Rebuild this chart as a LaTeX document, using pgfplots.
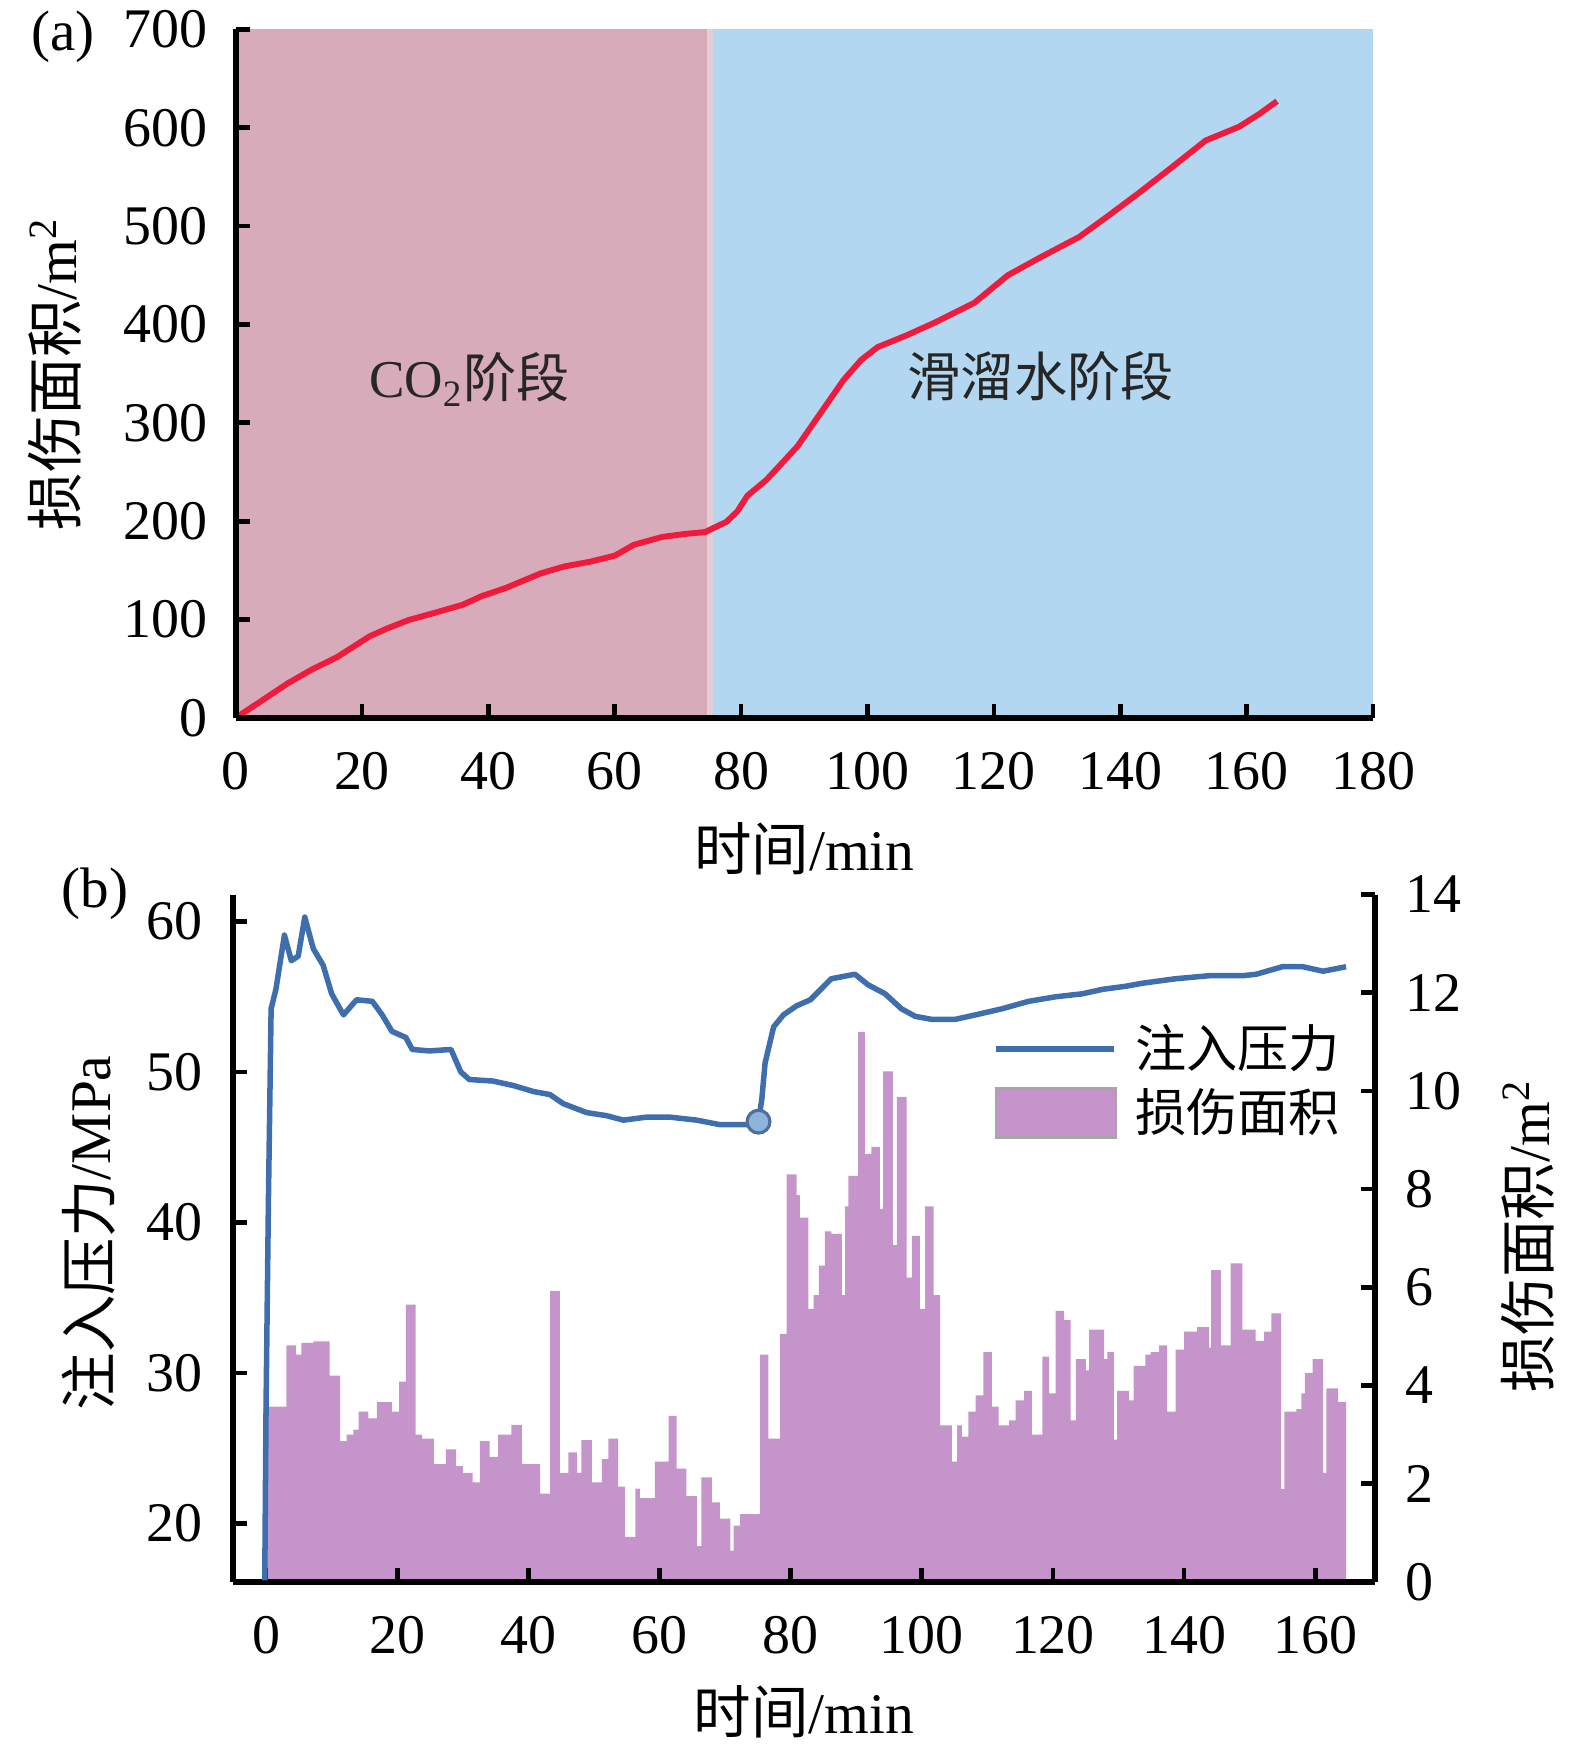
\documentclass[border=0pt]{standalone}
\usepackage{fontspec}
\setmainfont{Liberation Serif}
\newfontfamily\cjk{Noto Sans CJK SC}
\usepackage{pgfplots}
\pgfplotsset{compat=1.18}
\definecolor{pinkbg}{HTML}{D7ABB9}
\definecolor{stripbg}{HTML}{E3CDD6}
\definecolor{bluebg}{HTML}{B3D6F1}
\definecolor{redline}{HTML}{F01B3C}
\definecolor{barc}{HTML}{C594CA}
\definecolor{presc}{HTML}{3F6EAF}
\definecolor{markf}{HTML}{8FB4DC}
\definecolor{markd}{HTML}{4F6E99}
\newcommand{\lblfont}{\fontsize{14.6}{17}\selectfont}
\begin{document}
\begin{tikzpicture}
\useasboundingbox (0pt,-443.7pt) rectangle (400pt,0pt);
\pgfplotsset{
  every axis/.append style={
    scale only axis, axis on top, tick align=inside,
    major tick length=3.6pt,
    tick style={black, line width=1.2pt},
    axis line style={black, line width=1.5pt},
    tick label style={font=\fontsize{14.2}{16}\selectfont},
    /pgf/number format/assume math mode=true,
    minor tick num=0,
  }
}
% ---------------- panel (a) ----------------
\begin{axis}[at={(59.83pt,-182.35pt)}, anchor=south west,
  width=288.9pt, height=174.9pt,
  xmin=0, xmax=180, ymin=0, ymax=700,
  axis x line*=bottom, axis y line*=left,
  xtick={0,20,...,180}, ytick={0,100,...,700},
  xticklabel style={yshift=-5.2pt}, yticklabel style={xshift=-3.6pt},
  xlabel={{\cjk 时间}/min},
  ylabel={{\cjk 损伤面积}/m\textsuperscript{2}},
  every axis x label/.style={at={(axis description cs:0.5,-0.190)}, anchor=center, font=\lblfont},
  every axis y label/.style={at={(axis description cs:-0.1587,0.50)}, rotate=90, anchor=center, font=\lblfont},
]
\addplot[fill=pinkbg, draw=none] coordinates {(0,700) (74.6,700)} \closedcycle;
\addplot[fill=stripbg, draw=none] coordinates {(74.6,700) (75.6,700)} \closedcycle;
\addplot[fill=bluebg, draw=none] coordinates {(75.6,700) (180,700)} \closedcycle;
\addplot[redline, line width=1.5pt, line join=round] coordinates {
(0,0) (4,17) (8.2,35) (12,49) (16.1,62) (21.2,83) (24,91) (27.4,99.6) (31,106)
(35.9,115) (39,124) (42.7,132) (48.3,147) (52,154) (56.2,159) (60,165) (63,176)
(67.5,184) (71,187) (74.3,189) (77.7,199.5) (79.4,210) (81,226) (84,242)
(88.9,276) (92.9,313) (96.2,343.5) (99,364) (101.6,377) (106.2,389) (111,403)
(116.9,422) (122.2,450) (127,467) (133.5,489) (138,510) (142.8,533) (148,559)
(153.5,587) (158.8,601) (162,614) (164.8,627)
};
\node[font=\fontsize{13.5}{16}\selectfont, text=black!85] at (axis cs:37.0,344) {CO\textsubscript{2}{\cjk 阶段}};
\node[font=\fontsize{13.5}{16}\selectfont, text=black!85] at (axis cs:127.4,347) {{\cjk 滑溜水阶段}};
\end{axis}
% ---------------- panel (b): bars, right axis ----------------
\begin{axis}[at={(59.25pt,-401.78pt)}, anchor=south west,
  width=289.95pt, height=174.6pt,
  xmin=-5, xmax=169.1, ymin=0, ymax=14,
  axis x line*=bottom, axis y line*=right,
  xtick={0,20,...,160}, ytick={0,2,...,14},
  xticklabel style={yshift=-5.2pt}, yticklabel style={xshift=4.2pt},
  xlabel={{\cjk 时间}/min},
  ylabel={{\cjk 损伤面积}/m\textsuperscript{2}},
  every axis x label/.style={at={(axis description cs:0.5,-0.189)}, anchor=center, font=\lblfont},
  every axis y label/.style={at={(axis description cs:1.134,0.503)}, rotate=90, anchor=center, font=\lblfont},
]
\addplot[ybar interval, fill=barc, draw=none] coordinates {
(-0.36,3.57) (3.08,4.82) (4.6,4.63) (5.4,4.87) (7.2,4.9) (9.7,4.2) (11.3,2.87)
(12.3,3.0) (13.3,3.1) (14.1,3.47) (15.6,3.33) (16.9,3.66) (19.2,3.47) (20.3,4.08)
(21.3,5.65) (22.8,3.0) (23.8,2.92) (25.6,2.4) (27.4,2.7) (29,2.36) (30,2.22)
(31.5,2.03) (32.6,2.87) (34.1,2.55) (35.4,3.0) (37.4,3.2) (39,2.4) (41.8,1.8)
(43.3,5.93) (44.8,2.22) (46.1,2.64) (47.4,2.22) (48.1,2.89) (49.7,2.03) (51.2,2.5)
(52.2,2.92) (53.7,1.94) (54.7,0.92) (56.3,1.9) (57,1.71) (59.3,2.45) (61.4,3.38)
(62.6,2.31) (64.1,1.75) (65.7,0.73) (66.4,2.13) (68,1.62) (69.2,1.29) (70.8,0.64)
(71.3,1.15) (72.3,1.38) (75.3,4.63) (76.6,2.92) (78.4,5.05) (79.4,8.3) (80.9,7.88)
(81.4,7.42) (82.7,5.56) (83.5,5.84) (84.3,6.44) (85.2,7.14) (86.2,7.09) (87.8,5.84)
(88.3,7.65) (88.8,8.27) (90.3,11.2) (91.3,8.72) (92.3,8.86) (93.6,7.6) (94.1,10.4)
(95.6,6.86) (96.2,9.88) (97.7,6.2) (98.5,7.05) (99.7,5.56) (100.5,7.65) (101.8,5.84)
(102.8,3.19) (104.6,2.45) (105.4,3.19) (106.1,2.96) (107.1,3.47) (108.2,3.8)
(109.4,4.68) (110.7,3.57) (111.7,3.19) (113.3,3.29) (114.3,3.7) (115.6,3.89)
(116.8,3.0) (118.4,4.59) (119.4,3.84) (120.4,5.52) (121.7,5.33) (122.7,3.29)
(123.5,4.54) (125,4.31) (125.5,5.14) (127.8,4.54) (128.3,4.68) (129.3,2.9)
(129.8,3.89) (131.6,3.7) (132.3,4.4) (134.1,4.63) (134.9,4.68) (136.2,4.82)
(137.4,3.47) (138.7,4.73) (140,5.1) (142,5.19) (143.8,4.77) (144.1,6.35)
(145.6,4.82) (147.1,6.49) (148.9,5.14) (150.9,4.91) (152.2,5.1) (153.3,5.47)
(154.8,1.89) (155.3,3.47) (157.1,3.52) (157.9,3.84) (158.4,4.26) (159.6,4.54)
(161.2,2.22) (161.7,3.94) (163.5,3.66) (164.7,3.66)
};
\end{axis}
% ---------------- panel (b): pressure, left axis ----------------
\begin{axis}[at={(59.25pt,-401.78pt)}, anchor=south west,
  width=289.95pt, height=174.6pt,
  xmin=-5, xmax=169.1, ymin=16.1, ymax=61.8,
  axis y line*=left, hide x axis,
  ytick={20,30,...,60}, yticklabel style={xshift=-4.3pt},
  ylabel={{\cjk 注入压力}/MPa},
  every axis y label/.style={at={(axis description cs:-0.1264,0.508)}, rotate=90, anchor=center, font=\lblfont},
  legend style={at={(axis description cs:0.665,0.823)}, anchor=north west,
    draw=none, fill=none, inner sep=0pt, row sep=0pt, column sep=2.6pt,
    font=\fontsize{13}{15}\selectfont, nodes={inner sep=1.9pt}},
  legend cell align=left,
]
\addplot[presc, line width=1.4pt, line join=round,
  legend image code/.code={\draw[presc, line width=1.4pt] (0pt,0pt) -- (30pt,0pt);}] coordinates {
(-0.2,16.2) (0,27.9) (0.36,41.5) (0.77,54.2) (1.5,55.5) (2.8,59.1) (3.85,57.4)
(4.9,57.7) (5.9,60.3) (7.2,58.2) (8.7,57.1) (10,55.2) (11.8,53.8) (13.8,54.8)
(16.2,54.7) (17.7,53.8) (19.2,52.7) (21.3,52.3) (22.3,51.5) (24.9,51.4) (28.2,51.5)
(29.7,50) (31,49.5) (34.6,49.4) (37.7,49.1) (40.8,48.7) (43.3,48.5) (45.3,47.9)
(48.9,47.3) (51.9,47.1) (54.5,46.8) (58,47) (61.6,47) (65.7,46.8) (69.2,46.5)
(73.3,46.5) (75.1,46.7) (75.6,48.2) (76.1,50.6) (77.4,53) (78.9,53.8) (80.9,54.4)
(83,54.8) (86.2,56.2) (89.8,56.5) (91.8,55.8) (94.4,55.2) (96.9,54.2) (99,53.7)
(101.5,53.5) (105.1,53.5) (108.2,53.8) (112.2,54.2) (116.3,54.7) (120.4,55)
(124.5,55.2) (127.6,55.5) (131.1,55.7) (133.6,55.9) (138.7,56.2) (143.8,56.4)
(148.9,56.4) (151,56.5) (155,57) (158.1,57) (161.2,56.7) (164.7,57)
};
\addlegendentry{{\cjk 注入压力}}
\addplot[only marks, mark=*, mark size=2.9pt, mark options={fill=markf, draw=markd, line width=0.8pt}, forget plot] coordinates {(75.1,46.7)};
\addlegendimage{legend image code/.code={\draw[fill=barc, draw=gray!70, line width=0.6pt] (0pt,-6.2pt) rectangle (30.5pt,6.2pt);}}
\addlegendentry{{\cjk 损伤面积}}
\end{axis}
\node[font=\fontsize{14.5}{17}\selectfont] at (16pt,-9.4pt) {(a)};
\node[font=\fontsize{14.5}{17}\selectfont] at (24.1pt,-227pt) {(b)};
\end{tikzpicture}
\end{document}
